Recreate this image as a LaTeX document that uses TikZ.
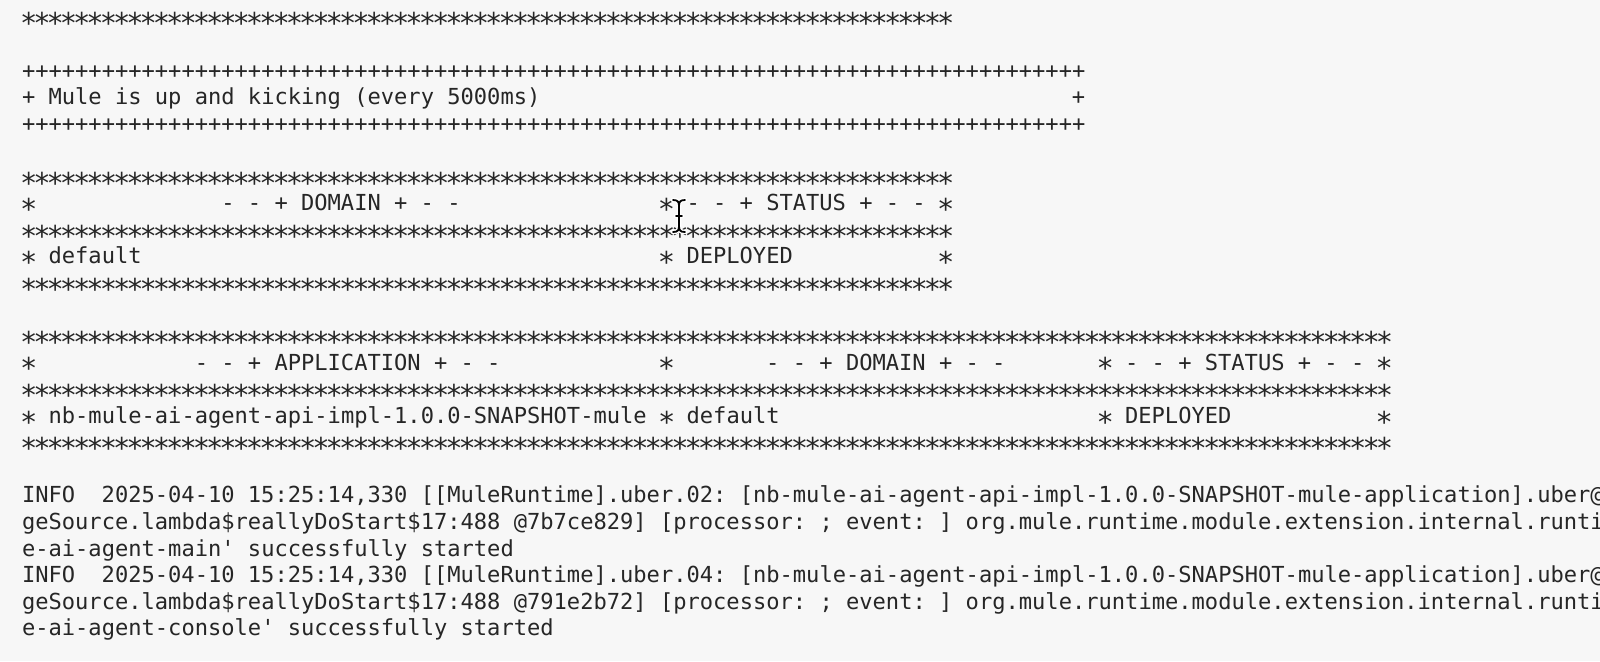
\documentclass[tikz,border=0pt]{standalone}
\usepackage{fontspec}
\setmonofont{DejaVu Sans Mono}
\definecolor{bg}{HTML}{F7F7F7}
\definecolor{fg}{HTML}{262626}
\ExplSyntaxOn
\NewDocumentCommand\rep{mm}{\prg_replicate:nn{#1}{#2}}
\ExplSyntaxOff
\newcommand\sta{\makebox[0.602em]{\raisebox{-0.40em}{\scalebox{1.3}{*}}}}
\newcommand\tline[4]{\node[tt] (#1) at ({22+#2*13.29},{25+#3*26.55}) {#4};}
\begin{document}
\begin{tikzpicture}[x=0.5pt,y=-0.5pt,
  tt/.style={anchor=base west,inner sep=0pt,outer sep=0pt,text=fg,
    font=\ttfamily\fontsize{11.04pt}{13pt}\selectfont}]
\useasboundingbox (0,0) rectangle (1600,661);
\fill[bg] (0,0) rectangle (1600,661);
\clip (0,0) rectangle (1600,661);
% row 0
\tline{r0}{0}{0}{\rep{70}{\sta}}
% Mule box
\tline{r2}{0}{2}{\rep{80}{+}}
\tline{r3a}{0}{3}{+ Mule is up and kicking (every 5000ms)}
\tline{r3b}{79}{3}{+}
\tline{r4}{0}{4}{\rep{80}{+}}
% domain table
\tline{r6}{0}{6}{\rep{70}{\sta}}
\tline{r7a}{0}{7}{\sta}
\tline{r7b}{15}{7}{- - + DOMAIN + - -}
\tline{r7c}{48}{7}{\sta}
\tline{r7d}{50}{7}{- - + STATUS + - -}
\tline{r7e}{69}{7}{\sta}
\tline{r8}{0}{8}{\rep{70}{\sta}}
\tline{r9a}{0}{9}{\sta{} default}
\tline{r9b}{48}{9}{\sta{} DEPLOYED}
\tline{r9c}{69}{9}{\sta}
\tline{r10}{0}{10}{\rep{70}{\sta}}
% application table
\tline{r12}{0}{12}{\rep{103}{\sta}}
\tline{r13a}{0}{13}{\sta}
\tline{r13b}{13}{13}{- - + APPLICATION + - -}
\tline{r13c}{48}{13}{\sta}
\tline{r13d}{56}{13}{- - + DOMAIN + - -}
\tline{r13e}{81}{13}{\sta}
\tline{r13f}{83}{13}{- - + STATUS + - -}
\tline{r13g}{102}{13}{\sta}
\tline{r14}{0}{14}{\rep{103}{\sta}}
\tline{r15a}{0}{15}{\sta{} nb-mule-ai-agent-api-impl-1.0.0-SNAPSHOT-mule \sta{} default}
\tline{r15b}{81}{15}{\sta{} DEPLOYED}
\tline{r15c}{102}{15}{\sta}
\tline{r16}{0}{16}{\rep{103}{\sta}}
% log lines
\tline{r18a}{0}{18}{INFO}
\tline{r18b}{6}{18}{2025-04-10 15:25:14,330 [[MuleRuntime].uber.02: [nb-mule-ai-agent-api-impl-1.0.0-SNAPSHOT-mule-application].uber@}
\tline{r19}{0}{19}{geSource.lambda\$reallyDoStart\$17:488 @7b7ce829] [processor: ; event: ] org.mule.runtime.module.extension.internal.runti}
\tline{r20}{0}{20}{e-ai-agent-main' successfully started}
\tline{r21a}{0}{21}{INFO}
\tline{r21b}{6}{21}{2025-04-10 15:25:14,330 [[MuleRuntime].uber.04: [nb-mule-ai-agent-api-impl-1.0.0-SNAPSHOT-mule-application].uber@}
\tline{r22}{0}{22}{geSource.lambda\$reallyDoStart\$17:488 @791e2b72] [processor: ; event: ] org.mule.runtime.module.extension.internal.runti}
\tline{r23}{0}{23}{e-ai-agent-console' successfully started}
% I-beam mouse cursor
\foreach \w/\c in {4.5/white,1.8/black}{
  \draw[line width=\w*0.5pt,\c,line cap=round]
    (673,200) .. controls (678,200) and (679,202) .. (679,206) -- (679,226)
    .. controls (679,230) and (678,232) .. (673,232);
  \draw[line width=\w*0.5pt,\c,line cap=round]
    (685,200) .. controls (680,200) and (679,202) .. (679,206);
  \draw[line width=\w*0.5pt,\c,line cap=round]
    (685,232) .. controls (680,232) and (679,230) .. (679,226);
  \draw[line width=\w*0.5pt,\c,line cap=round] (676,216) -- (682,216);
}
\end{tikzpicture}
\end{document}
